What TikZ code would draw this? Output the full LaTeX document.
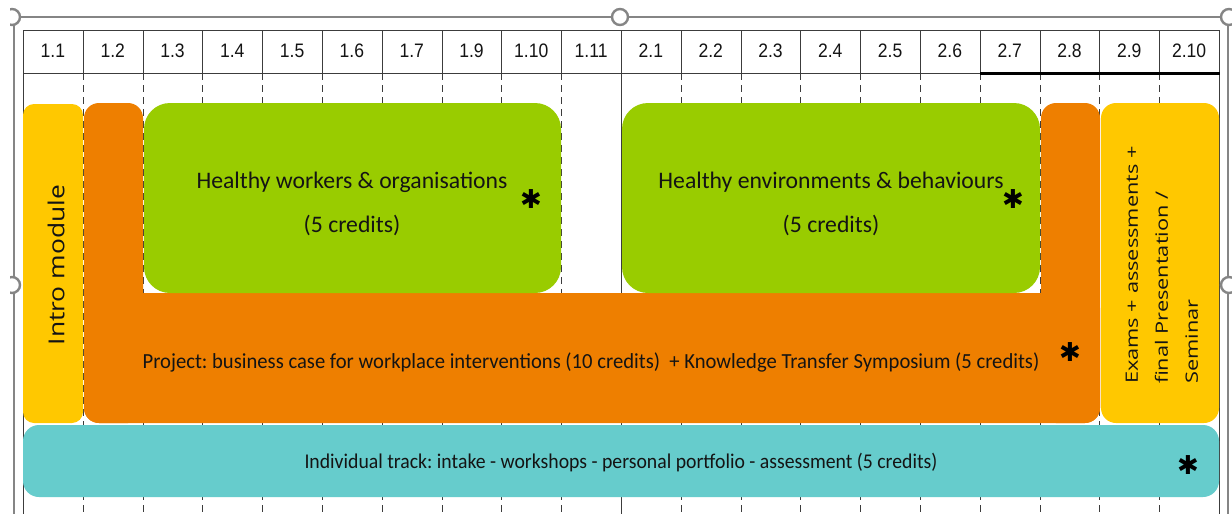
\documentclass[tikz,border=0pt]{standalone}
\usepackage{fontspec}
\setmainfont{Carlito}
\newfontfamily\projfont[FakeStretch=0.96]{Carlito}
\newfontfamily\indivfont[FakeStretch=0.94]{Carlito}
\newfontfamily\hdrfont[FakeStretch=0.9]{Liberation Sans}
\newfontfamily\rotfont[FakeStretch=1.2]{Open Sans}
\newfontfamily\rotfontb[FakeStretch=1.28]{Open Sans}
\newfontfamily\symfont{DejaVu Sans}
\definecolor{cyel}{HTML}{FFC800}
\definecolor{corg}{HTML}{EE7F00}
\definecolor{cgrn}{HTML}{99CC00}
\definecolor{cteal}{HTML}{66CCCC}
\definecolor{cgrid}{HTML}{3C3C3C}
\definecolor{cframe}{HTML}{858585}
\definecolor{ctext}{HTML}{141414}
\tikzset{
  gridline/.style={draw=cgrid, line width=1.1pt},
  dashline/.style={draw=cgrid, line width=0.9pt, dash pattern=on 7pt off 5pt},
  frameline/.style={draw=cframe, line width=1.4pt},
  handle/.style={draw=cframe, fill=white, line width=2.4pt},
  hdr/.style={font=\hdrfont\fontsize{19.5}{19.5}\selectfont, text=ctext, inner sep=0pt},
  btext/.style={text=ctext, align=center, inner sep=0pt},
  astnode/.style={text=black, inner sep=0pt, font=\symfont\fontsize{26}{26}\selectfont},
}
\frenchspacing
\begin{document}
\begin{tikzpicture}[x=1pt,y=-1pt]
\useasboundingbox (0,0) rectangle (1232,514);
\fill[white] (0,0) rectangle (1232,514);
% selection frame
\draw[frameline] (20,17) -- (1224,17);
\draw[frameline] (14,24) -- (14,514);
\draw[frameline] (1228,24) -- (1228,514);
% dashed column lines
\foreach \k in {1,...,9,11,12,...,19}
  \draw[dashline] ({round(23+59.8*\k)+0.5},73) -- ({round(23+59.8*\k)+0.5},514);
\foreach \k in {0,10,20}
  \draw[gridline] ({round(23+59.8*\k)+0.5},30) -- ({round(23+59.8*\k)+0.5},514);
% header
\draw[gridline] (23.5,30.5) rectangle (1219.5,73.5);
\foreach \k in {1,...,19}
  \draw[gridline] ({round(23+59.8*\k)+0.5},30) -- ({round(23+59.8*\k)+0.5},73);
\draw[line width=2.6pt, black] ({round(23+59.8*16)},73.5) -- (1219.5,73.5);
\foreach \lab [count=\i from 0] in {1.1,1.2,1.3,1.4,1.5,1.6,1.7,1.9,1.10,1.11,2.1,2.2,2.3,2.4,2.5,2.6,2.7,2.8,2.9,2.10}
  \node[hdr] (h\i) at ({23+59.8*(\i+0.5)},51) {\lab};
% shapes
\fill[cyel, rounded corners=11pt] (23,104) rectangle (83,423);
\fill[corg, rounded corners=15pt] (84,103) rectangle (143,423);
\fill[corg, rounded corners=15pt] (1041,103) rectangle (1100,423);
\fill[corg, rounded corners=15pt] (84,293) rectangle (1100,423);
\fill[cgrn, rounded corners=26pt] (144,103) rectangle (561,293);
\fill[cgrn, rounded corners=26pt] (622,103) rectangle (1040,293);
\fill[cyel, rounded corners=15pt] (1101,103) rectangle (1219,423);
\fill[cteal, rounded corners=16pt] (23,425) rectangle (1219,497);
% texts
\node[btext, rotate=90, font=\rotfont\fontsize{22}{22}\selectfont] (intro) at (56,265) {Intro module};
\node[btext, font=\fontsize{23.7}{44}\selectfont] (gA) at (352,204) {Healthy workers \& organisations\\(5 credits)};
\node[btext, font=\fontsize{23.7}{44}\selectfont] (gB) at (831,204) {Healthy environments \& behaviours\\(5 credits)};
\node[btext, font=\projfont\fontsize{21.5}{21.5}\selectfont] (proj) at (591,362) {Project: business case for workplace interventions (10 credits) \ + Knowledge Transfer Symposium (5 credits)};
\node[btext, font=\indivfont\fontsize{21}{21}\selectfont] (indiv) at (621,463) {Individual track: intake - workshops - personal portfolio - assessment (5 credits)};
\node[btext, rotate=90, align=left, font=\rotfontb\fontsize{17}{30}\selectfont] (exams) at (1162,265) {Exams + assessments +\\final Presentation /\\Seminar};
\node[astnode] (a1) at (531,199) {✱};
\node[astnode] (a2) at (1013,199) {✱};
\node[astnode] (a3) at (1070,352) {✱};
\node[astnode] (a4) at (1188,465) {✱};
% handles
\begin{scope}
\clip (10,0) rectangle (1232,514);
\draw[handle] (12,17) circle[radius=8pt];
\draw[handle] (620,17) circle[radius=8pt];
\draw[handle] (1229,17) circle[radius=8pt];
\draw[handle] (12,285) circle[radius=8pt];
\draw[handle] (1229,285) circle[radius=8pt];
\end{scope}
\end{tikzpicture}
\end{document}
